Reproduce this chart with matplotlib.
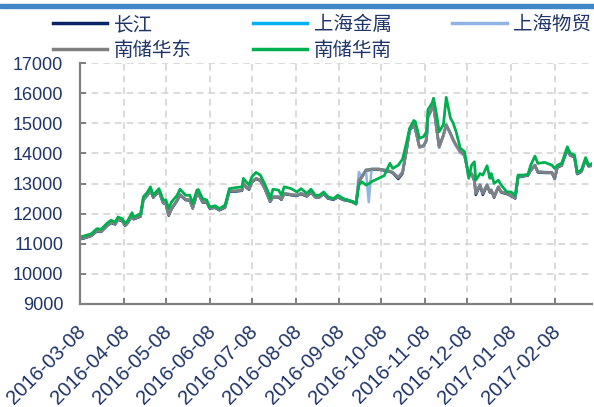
import numpy as np
import pandas as pd
import matplotlib
matplotlib.use("Agg")
import matplotlib.pyplot as plt
import matplotlib.dates as mdates
import matplotlib.transforms as mtransforms
from matplotlib.patches import Rectangle

# ---------------------------------------------------------
# Datos
# ---------------------------------------------------------
fechas = [
    "2016-03-08", "2016-03-11", "2016-03-16", "2016-03-20", "2016-03-23", "2016-03-27", "2016-03-30",
    "2016-04-02", "2016-04-04", "2016-04-07", "2016-04-09", "2016-04-11", "2016-04-14", "2016-04-15",
    "2016-04-20", "2016-04-22", "2016-04-25", "2016-04-27", "2016-04-29",
    "2016-05-03", "2016-05-04", "2016-05-06", "2016-05-08", "2016-05-10", "2016-05-12", "2016-05-16",
    "2016-05-18", "2016-05-22", "2016-05-25", "2016-05-27", "2016-05-30", "2016-05-31",
    "2016-06-03", "2016-06-06", "2016-06-08", "2016-06-12", "2016-06-15", "2016-06-19", "2016-06-22",
    "2016-06-26",
    "2016-07-01", "2016-07-02", "2016-07-04", "2016-07-06", "2016-07-08", "2016-07-11", "2016-07-14",
    "2016-07-17", "2016-07-20", "2016-07-21", "2016-07-23", "2016-07-27", "2016-07-29", "2016-07-31",
    "2016-08-05", "2016-08-09", "2016-08-12", "2016-08-16", "2016-08-19", "2016-08-22", "2016-08-25",
    "2016-08-28", "2016-08-31",
    "2016-09-04", "2016-09-07", "2016-09-11", "2016-09-14", "2016-09-18", "2016-09-20", "2016-09-22",
    "2016-09-24", "2016-09-27", "2016-09-29",
    "2016-10-01", "2016-10-06", "2016-10-10", "2016-10-14", "2016-10-16", "2016-10-20", "2016-10-23",
    "2016-10-26", "2016-10-28", "2016-10-31",
    "2016-11-01", "2016-11-04", "2016-11-07", "2016-11-09", "2016-11-10", "2016-11-13", "2016-11-14",
    "2016-11-16", "2016-11-18", "2016-11-21", "2016-11-23", "2016-11-26", "2016-11-28", "2016-11-30",
    "2016-12-03", "2016-12-06", "2016-12-09", "2016-12-11", "2016-12-13", "2016-12-14", "2016-12-17",
    "2016-12-19", "2016-12-22", "2016-12-24", "2016-12-25", "2016-12-27", "2016-12-30",
    "2017-01-01", "2017-01-05", "2017-01-08", "2017-01-11", "2017-01-13", "2017-01-17", "2017-01-20",
    "2017-01-22", "2017-01-25", "2017-01-27",
    "2017-02-01", "2017-02-06", "2017-02-08", "2017-02-10", "2017-02-13", "2017-02-15", "2017-02-17",
    "2017-02-19", "2017-02-22", "2017-02-24", "2017-02-27",
    "2017-03-02", "2017-03-04", "2017-03-07",
]

nanchu_huadong = [
    11170, 11200, 11280, 11430, 11410, 11600, 11710,
    11660, 11820, 11770, 11610, 11710, 11950, 11830, 11920, 12480, 12630, 12790, 12550,
    12750, 12630, 12370, 12330, 11950, 12170, 12450, 12630, 12470, 12450, 12190, 12660, 12670,
    12390, 12390, 12190, 12210, 12130, 12220, 12750, 12750,
    12780, 13000, 12890, 12810, 13060, 13170, 13110, 12860, 12520, 12410, 12560, 12560, 12480, 12670,
    12630, 12610, 12670, 12590, 12720, 12560, 12560, 12670, 12520,
    12480, 12560, 12470, 12450, 12390, 12330, 13110, 13220, 13450, 13460,
    13480, 13480, 13450, 13410, 13370, 13190, 13370, 14170, 14780, 14950,
    14830, 14220, 14260, 14450, 15220, 15500, 15610, 14890, 14220, 14610, 14950, 14670, 14450, 14280,
    14060, 13950, 13280, 13330, 13110, 12670, 12950, 12670, 12950, 12720, 12780, 12560, 12890,
    12720, 12670, 12610, 12520, 13220, 13260, 13280, 13450, 13610, 13390,
    13370, 13370, 13170, 13560, 13610, 13890, 14110, 13950, 13890, 13330, 13410,
    13810, 13590, 13610,
]

nanchu_huanan = [
    11220, 11260, 11330, 11500, 11480, 11670, 11780,
    11720, 11890, 11830, 11670, 11780, 12030, 11890, 12000, 12560, 12720, 12890, 12610,
    12830, 12720, 12450, 12450, 12170, 12390, 12610, 12810, 12610, 12610, 12330, 12780, 12800,
    12500, 12450, 12220, 12260, 12170, 12280, 12830, 12860,
    12890, 13170, 13060, 12950, 13220, 13370, 13280, 13000, 12670, 12500, 12810, 12780, 12610, 12890,
    12830, 12720, 12830, 12670, 12810, 12610, 12610, 12720, 12560,
    12500, 12610, 12500, 12450, 12390, 12330, 12950, 13060, 12950, 12990,
    13060, 13170, 13260, 13670, 13500, 13610, 13810, 14390, 14830, 15090,
    15060, 14500, 14560, 14720, 15450, 15670, 15830, 15330, 14720, 14950, 15860, 15170, 15000, 14720,
    14170, 14060, 13170, 13610, 13720, 13110, 13330, 13280, 13590, 13170, 13330, 13000, 13110,
    12950, 12720, 12720, 12610, 13280, 13280, 13300, 13610, 13910, 13670,
    13700, 13610, 13500, 13610, 13670, 13950, 14220, 14000, 13950, 13370, 13450,
    13860, 13610, 13670,
]

changjiang = [
    11150, 11180, 11260, 11410, 11390, 11580, 11690,
    11640, 11800, 11750, 11590, 11690, 11930, 11810, 11900, 12460, 12610, 12770, 12530,
    12730, 12610, 12350, 12310, 11930, 12150, 12430, 12610, 12450, 12430, 12170, 12640, 12650,
    12370, 12370, 12170, 12190, 12110, 12200, 12730, 12730,
    12760, 12980, 12870, 12790, 13040, 13150, 13090, 12840, 12500, 12390, 12540, 12540, 12460, 12650,
    12610, 12590, 12650, 12570, 12700, 12540, 12540, 12650, 12500,
    12460, 12540, 12450, 12430, 12370, 12310, 13090, 13200, 13430, 13440,
    13460, 13460, 13430, 13390, 13350, 13150, 13330, 14150, 14760, 14930,
    14810, 14200, 14240, 14430, 15200, 15480, 15590, 14870, 14200, 14590, 14930, 14650, 14430, 14260,
    14040, 13930, 13260, 13310, 13080, 12620, 12930, 12620, 12930, 12700, 12760, 12530, 12870,
    12700, 12650, 12590, 12500, 13200, 13240, 13260, 13430, 13590, 13370,
    13350, 13350, 13150, 13540, 13590, 13870, 14090, 13930, 13870, 13310, 13390,
    13790, 13570, 13590,
]

shanghai_jinshu = [
    11170, 11200, 11280, 11430, 11410, 11600, 11710,
    11660, 11820, 11770, 11610, 11710, 11950, 11830, 11920, 12480, 12630, 12790, 12550,
    12750, 12630, 12370, 12330, 11950, 12170, 12450, 12630, 12470, 12450, 12190, 12660, 12670,
    12390, 12390, 12190, 12210, 12130, 12220, 12750, 12750,
    12780, 13000, 12890, 12810, 13060, 13170, 13110, 12860, 12520, 12410, 12560, 12560, 12480, 12670,
    12630, 12610, 12670, 12590, 12720, 12560, 12560, 12670, 12520,
    12480, 12560, 12470, 12450, 12390, 12330, 13110, 13220, 13450, 13460,
    13480, 13480, 13450, 13410, 13370, 13190, 13370, 14170, 14780, 14950,
    14830, 14220, 14260, 14450, 15220, 15500, 15610, 14890, 14220, 14610, 14950, 14670, 14450, 14280,
    14060, 13950, 13280, 13330, 13110, 12670, 12950, 12670, 12950, 12720, 12780, 12560, 12890,
    12720, 12670, 12610, 12520, 13220, 13260, 13280, 13450, 13610, 13390,
    13370, 13370, 13170, 13560, 13610, 13890, 14110, 13950, 13890, 13330, 13410,
    13810, 13590, 13610,
]

shanghai_wumao = [
    11180, 11210, 11290, 11440, 11420, 11610, 11720,
    11670, 11830, 11780, 11620, 11720, 11960, 11840, 11930, 12490, 12640, 12800, 12560,
    12760, 12640, 12380, 12340, 11960, 12180, 12460, 12640, 12480, 12460, 12200, 12670, 12680,
    12400, 12400, 12200, 12220, 12140, 12230, 12760, 12760,
    12790, 13010, 12900, 12820, 13070, 13180, 13120, 12870, 12530, 12420, 12570, 12570, 12490, 12680,
    12640, 12620, 12680, 12600, 12730, 12570, 12570, 12680, 12530,
    12490, 12570, 12480, 12460, 12400, 12340, 13380, 13230, 13450, 12380,
    13480, 13480, 13450, 13410, 13370, 13220, 13400, 14230, 14820, 14960,
    14830, 14200, 14240, 14420, 15200, 15480, 15590, 14870, 14190, 14580, 14920, 14630, 14400, 14230,
    14020, 13920, 13300, 13350, 13140, 12700, 12980, 12700, 12980, 12740, 12800, 12580, 12900,
    12730, 12680, 12620, 12530, 13230, 13270, 13290, 13460, 13620, 13400,
    13380, 13380, 13180, 13570, 13620, 13900, 14120, 13960, 13900, 13340, 13420,
    13820, 13600, 13620,
]

etiquetas = ["长江", "上海金属", "上海物贸", "南储华东", "南储华南"]
colores = ["#0b2466", "#00b0f0", "#8fb4e3", "#808080", "#00b050"]
series = [changjiang, shanghai_jinshu, shanghai_wumao, nanchu_huadong, nanchu_huanan]

df = pd.DataFrame({"fecha": pd.to_datetime(fechas)})
for lab, vals in zip(etiquetas, series):
    df[lab] = vals

# ---------------------------------------------------------
# Figura
# ---------------------------------------------------------
plt.rcParams["font.family"] = ["Liberation Sans", "Noto Sans CJK SC"]
color_texto = "#1f3468"

fig = plt.figure(figsize=(5.94, 4.07), dpi=100)
ax = fig.add_axes([80 / 594, 1 - 304 / 407, 512 / 594, 241 / 407])

# barra azul superior
fig.patches.append(Rectangle((0, 1 - 7.5 / 407), 1, 3.5 / 407, transform=fig.transFigure,
                             color="#3f87c9", zorder=0))

lineas = {}
for lab, col in zip(etiquetas, colores):
    lw = 2.0 if lab in ("南储华东", "南储华南") else 1.8
    ln, = ax.plot(df["fecha"], df[lab], color=col, lw=lw, label=lab, solid_joinstyle="round")
    lineas[lab] = ln

ax.set_ylim(9000, 17000)
ax.set_yticks(np.arange(9000, 17001, 1000))
ax.set_xlim(pd.Timestamp("2016-03-08"), pd.Timestamp("2017-03-06 12:00"))
ax.xaxis.set_major_locator(mdates.MonthLocator(bymonthday=8))
ax.xaxis.set_major_formatter(mdates.DateFormatter("%Y-%m-%d"))

ax.grid(True, color="#d4d4d4", linestyle=(0, (4, 3)), lw=1.2)
ax.set_axisbelow(True)
for s in ("top", "right"):
    ax.spines[s].set_visible(False)
for s in ("left", "bottom"):
    ax.spines[s].set_color("#808080")
    ax.spines[s].set_linewidth(1.6)

ax.tick_params(axis="both", direction="in", length=4, width=1.4, color="#808080",
               labelcolor=color_texto, labelsize=13)
ax.tick_params(axis="y", pad=12)
ax.tick_params(axis="x", pad=13, labelsize=14.5)
desplazar = mtransforms.ScaledTranslation(-4 / 100, 0, fig.dpi_scale_trans)
for lbl in ax.get_xticklabels():
    lbl.set_rotation(45)
    lbl.set_ha("right")
    lbl.set_va("top")
    lbl.set_rotation_mode("anchor")
    lbl.set_transform(lbl.get_transform() + desplazar)

# leyenda (orden por columnas para que quede en filas como el original)
orden = ["长江", "南储华东", "上海金属", "南储华南", "上海物贸"]
leg = fig.legend([lineas[k] for k in orden], orden, ncol=3, frameon=False,
                 loc="upper left", bbox_to_anchor=(53 / 594, 1 - 14 / 407),
                 borderpad=0, borderaxespad=0, handlelength=2.8, handletextpad=0.35,
                 columnspacing=3.1, labelspacing=0.25,
                 prop={"family": ["Noto Sans CJK SC"], "size": 14})
for t in leg.get_texts():
    t.set_color(color_texto)
for h in leg.legend_handles:
    h.set_linewidth(2.5)

plt.savefig("out.png", dpi=100)
